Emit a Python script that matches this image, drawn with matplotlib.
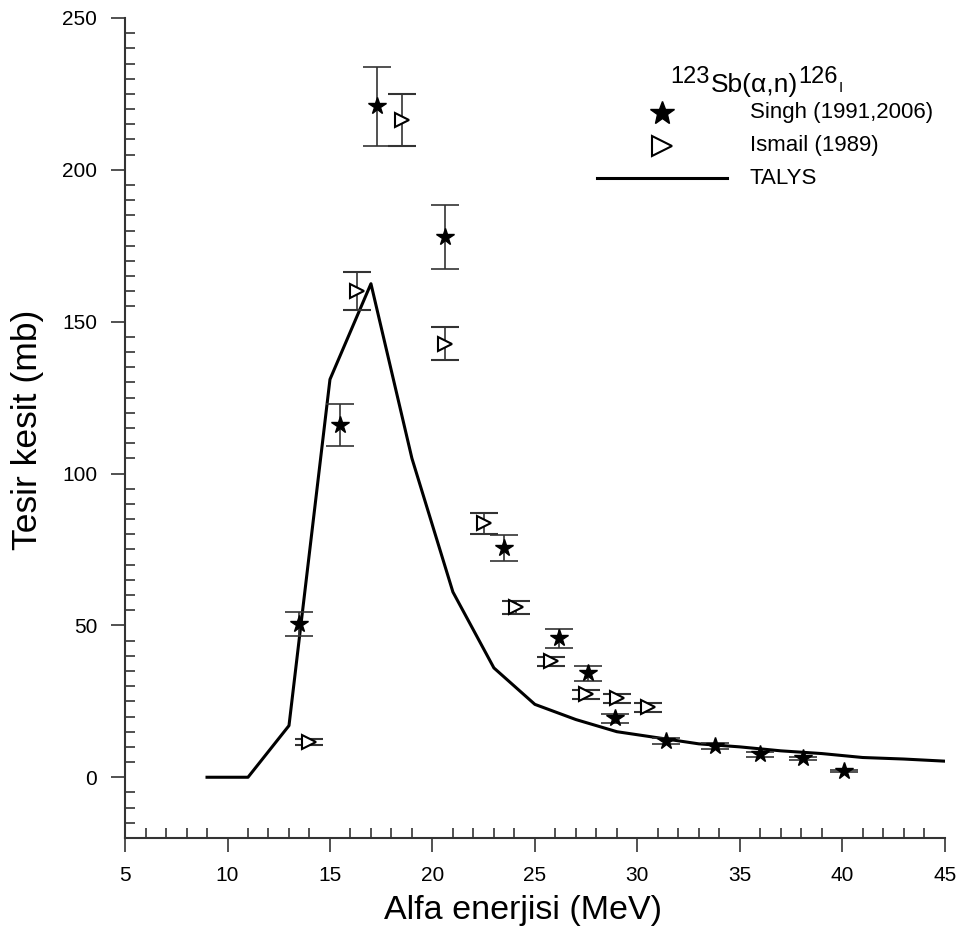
import matplotlib
matplotlib.use("Agg")
import matplotlib.pyplot as plt
from matplotlib.ticker import MultipleLocator

plt.rcParams['font.family'] = ['Liberation Sans', 'DejaVu Sans']

# Singh (1991,2006)
singh_x = [13.5, 15.5, 17.3, 20.6, 23.5, 26.2, 27.6, 28.9, 31.4, 33.8, 36.0, 38.1, 40.1]
singh_y = [50.5, 116.0, 221.0, 178.0, 75.5, 45.7, 34.2, 19.4, 11.8, 10.2, 7.6, 6.2, 2.0]
singh_err = [4.0, 7.0, 13.0, 10.5, 4.3, 3.0, 2.5, 1.5, 1.0, 1.0, 0.8, 0.6, 0.3]

# Ismail (1989)
ismail_x = [14.0, 16.3, 18.5, 20.6, 22.5, 24.1, 25.8, 27.5, 29.0, 30.5]
ismail_y = [11.5, 160.0, 216.5, 142.8, 83.6, 55.9, 38.2, 27.3, 26.0, 23.0]
ismail_err = [1.0, 6.2, 8.5, 5.5, 3.5, 2.0, 1.5, 1.5, 1.5, 1.5]

# TALYS
talys_x = [9, 11, 13, 15, 17, 19, 21, 23, 25, 27, 29, 31, 33, 35, 37, 39, 41, 43, 45]
talys_y = [0, 0, 17, 131, 162.5, 105, 61, 36, 24, 19, 15, 13, 11, 10, 8.7, 7.8, 6.5, 6.0, 5.3]

fig = plt.figure(figsize=(9.62, 9.31), dpi=100)
ax = fig.add_axes([0.130, 0.0999, 0.852, 0.8808])

ax.plot(talys_x, talys_y, color='black', lw=2.2, zorder=2)
ax.errorbar(singh_x, singh_y, yerr=singh_err, fmt='*', color='black', ms=13,
            mfc='black', mec='black', ecolor='#333333', elinewidth=1.2, capsize=10, capthick=1.2, zorder=3)
ax.errorbar(ismail_x, ismail_y, yerr=ismail_err, fmt='>', color='black', ms=10,
            mfc='white', mec='black', mew=1.5, ecolor='#333333', elinewidth=1.2, capsize=10, capthick=1.2, zorder=3)

ax.set_xlim(5, 45)
ax.set_ylim(-20, 250)
ax.xaxis.set_major_locator(MultipleLocator(5))
ax.xaxis.set_minor_locator(MultipleLocator(1))
ax.yaxis.set_major_locator(MultipleLocator(50))
ax.yaxis.set_minor_locator(MultipleLocator(5))
ax.tick_params(which='major', direction='out', length=10, width=1.2, labelsize=15, pad=10,
               color='#333333')
ax.tick_params(which='minor', direction='in', length=7, width=1.2, color='#333333')
ax.spines['top'].set_visible(False)
ax.spines['right'].set_visible(False)
for s in ('left', 'bottom'):
    ax.spines[s].set_linewidth(1.5)
    ax.spines[s].set_color('#333333')

def axc(px, py):
    return ((px - 125) / 820.0, (838 - py) / 820.0)

xl = ax.set_xlabel('Alfa enerjisi (MeV)', fontsize=24.5)
xl.set_va('center')
ax.xaxis.set_label_coords(*axc(523, 911))
yl = ax.set_ylabel('Tesir kesit (mb)', fontsize=25.5)
yl.set_va('center')
yl.set_ha('center')
ax.yaxis.set_label_coords(*axc(27, 430))

# Legend drawn manually (axes coords)
T = ax.transAxes

_, yb_sup = axc(0, 83)
_, yb_base = axc(0, 92)
t1 = ax.text(*axc(670, 83), '123', transform=T, fontsize=17, va='baseline', ha='left')
t2 = ax.annotate('Sb(\u03b1,n)', xy=(1, yb_base), xycoords=(t1, 'axes fraction'),
                 xytext=(1, 0), textcoords='offset points',
                 fontsize=19, va='baseline', ha='left')
t3 = ax.annotate('126', xy=(1, yb_sup), xycoords=(t2, 'axes fraction'),
                 fontsize=17, va='baseline', ha='left')
t4 = ax.annotate('I', xy=(1, yb_base), xycoords=(t3, 'axes fraction'),
                 xytext=(1, 0), textcoords='offset points',
                 fontsize=11, va='baseline', ha='left')

ax.plot(*axc(662, 113), marker='*', ms=18, color='black', transform=T, clip_on=False)
ax.text(*axc(750, 113), 'Singh (1991,2006)', transform=T, fontsize=16, va='center')
ax.plot(*axc(662, 146), marker='>', ms=15, mfc='white', mec='black', mew=1.5, transform=T, clip_on=False)
ax.text(*axc(750, 146), 'Ismail (1989)', transform=T, fontsize=16, va='center')
x0, y0 = axc(597, 178)
x1, _ = axc(727, 178)
ax.plot([x0, x1], [y0, y0], color='black', lw=2.2, transform=T, clip_on=False)
ax.text(*axc(750, 179), 'TALYS', transform=T, fontsize=16, va='center')

fig.savefig('out.png', dpi=100)
